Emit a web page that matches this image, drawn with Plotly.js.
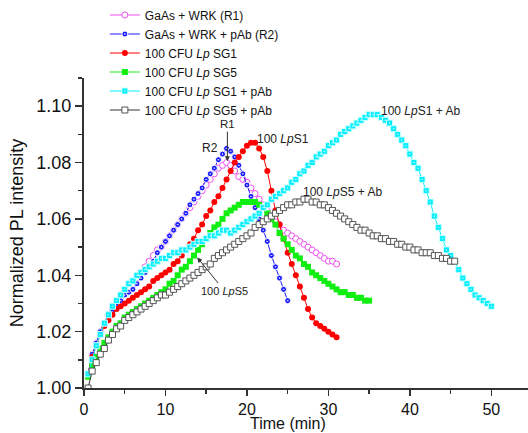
<!DOCTYPE html>
<html><head><meta charset="utf-8">
<script src="https://cdn.plot.ly/plotly-3.0.1.min.js"></script>
<style>html,body{margin:0;padding:0;background:#fff}#chart{width:528px;height:433px}</style>
</head><body><div id="chart"></div>
<script>
// Sampling times (min)
const time = [0.5,1,1.5,2,2.5,3,3.5,4,4.5,5,5.5,6,6.5,7,7.5,8,8.5,9,9.5,10,
10.5,11,11.5,12,12.5,13,13.5,14,14.5,15,15.5,16,16.5,17,17.5,18,18.5,19,19.5,20,
20.5,21,21.5,22,22.5,23,23.5,24,24.5,25,25.5,26,26.5,27,27.5,28,28.5,29,29.5,30,
30.5,31,31.5,32,32.5,33,33.5,34,34.5,35,35.5,36,36.5,37,37.5,38,38.5,39,39.5,40,
40.5,41,41.5,42,42.5,43,43.5,44,44.5,45,45.5,46,46.5,47,47.5,48,48.5,49,49.5,50];

const seriesNames = ["GaAs + WRK (R1)","GaAs + WRK + pAb (R2)","100 CFU <i>Lp</i> SG1",
  "100 CFU <i>Lp</i> SG5","100 CFU <i>Lp</i> SG1 + pAb","100 CFU <i>Lp</i> SG5 + pAb"];

const xTitle = 'Time (min)';
const yTitle = 'Normalized PL intensity';

const r1 = [1.005,1.012,1.016,1.020,1.023,1.026,1.028,1.030,1.032,1.034,
1.035,1.037,1.039,1.041,1.043,1.045,1.047,1.049,1.050,1.052,
1.054,1.056,1.058,1.060,1.062,1.064,1.066,1.068,1.070,1.072,
1.074,1.076,1.078,1.079,1.080,1.079,1.077,1.075,1.074,1.073,
1.071,1.069,1.067,1.065,1.063,1.061,1.059,1.058,1.056,1.055,
1.054,1.053,1.052,1.051,1.050,1.049,1.048,1.047,1.046,1.045,
1.045,1.044];

const r2 = [1.005,1.012,1.016,1.020,1.023,1.025,1.027,1.029,1.031,1.033,
1.034,1.035,1.037,1.039,1.041,1.043,1.045,1.048,1.050,1.052,
1.054,1.056,1.058,1.060,1.062,1.065,1.067,1.069,1.071,1.074,
1.076,1.078,1.081,1.083,1.085,1.084,1.082,1.079,1.076,1.072,
1.068,1.064,1.060,1.056,1.052,1.047,1.043,1.039,1.035,1.031];

const sg1 = [1.005,1.011,1.015,1.019,1.022,1.024,1.026,1.028,1.029,1.030,
1.031,1.032,1.033,1.034,1.035,1.036,1.038,1.039,1.040,1.041,
1.042,1.044,1.045,1.047,1.049,1.051,1.053,1.056,1.058,1.061,
1.063,1.066,1.068,1.071,1.074,1.077,1.080,1.082,1.084,1.086,
1.087,1.087,1.085,1.082,1.077,1.070,1.063,1.058,1.053,1.048,
1.044,1.040,1.036,1.032,1.028,1.025,1.023,1.022,1.021,1.020,
1.019,1.018];

const sg5 = [1.004,1.008,1.011,1.014,1.016,1.018,1.020,1.022,1.023,1.025,
1.026,1.027,1.028,1.029,1.030,1.031,1.032,1.033,1.034,1.035,
1.037,1.038,1.040,1.042,1.043,1.045,1.047,1.049,1.051,1.053,
1.055,1.057,1.058,1.060,1.062,1.063,1.064,1.065,1.066,1.066,
1.066,1.066,1.065,1.064,1.062,1.060,1.058,1.055,1.053,1.051,
1.049,1.047,1.046,1.044,1.043,1.041,1.040,1.039,1.038,1.037,
1.036,1.035,1.034,1.034,1.033,1.033,1.032,1.032,1.031,1.031];

const sg1pab = [1.005,1.010,1.015,1.019,1.023,1.026,1.029,1.031,1.033,1.035,
1.037,1.038,1.040,1.041,1.042,1.043,1.044,1.045,1.046,1.046,
1.047,1.048,1.048,1.049,1.049,1.050,1.051,1.052,1.052,1.053,
1.054,1.054,1.055,1.056,1.056,1.055,1.056,1.057,1.058,1.059,
1.060,1.061,1.062,1.064,1.065,1.067,1.068,1.069,1.070,1.071,
1.073,1.074,1.076,1.077,1.079,1.080,1.082,1.083,1.084,1.086,
1.087,1.088,1.090,1.091,1.092,1.093,1.094,1.095,1.096,1.097,
1.097,1.097,1.096,1.095,1.094,1.092,1.090,1.088,1.086,1.083,
1.080,1.078,1.074,1.070,1.066,1.061,1.057,1.053,1.049,1.047,
1.045,1.042,1.039,1.037,1.035,1.033,1.032,1.031,1.030,1.029];

const sg5pab = [1.000,1.006,1.009,1.012,1.014,1.017,1.019,1.021,1.022,1.024,
1.025,1.026,1.027,1.028,1.029,1.030,1.031,1.032,1.033,1.033,
1.034,1.035,1.036,1.037,1.038,1.039,1.040,1.041,1.042,1.043,
1.044,1.046,1.047,1.048,1.049,1.050,1.051,1.052,1.053,1.054,
1.055,1.057,1.058,1.059,1.060,1.061,1.062,1.063,1.064,1.065,
1.065,1.066,1.066,1.067,1.067,1.066,1.066,1.065,1.065,1.064,
1.063,1.062,1.061,1.060,1.059,1.058,1.057,1.056,1.056,1.055,
1.054,1.054,1.053,1.053,1.052,1.052,1.051,1.051,1.050,1.050,
1.049,1.049,1.048,1.048,1.048,1.047,1.047,1.046,1.046,1.045,
1.045];

const FONT = 'Arial, "Liberation Sans", sans-serif';

function mk(ys, name, lineColor, marker) {
  return {x: time.slice(0, ys.length), y: ys, name: name, type: 'scatter', mode: 'lines+markers',
    line: {color: lineColor, width: 1}, marker: marker};
}

const traces = [
  mk(r1, seriesNames[0], '#f050f0', {symbol: 'circle', size: 6, color: '#ffffff', line: {color: '#f050f0', width: 1}}),
  mk(r2, seriesNames[1], '#1a1aff', {symbol: 'circle-dot', size: 6, color: '#1a1aff', line: {color: '#ffffff', width: 1}}),
  mk(sg1, seriesNames[2], '#ff0000', {symbol: 'circle', size: 6, color: '#ff0000', line: {color: '#ff0000', width: 0}}),
  mk(sg5, seriesNames[3], '#22ee22', {symbol: 'square', size: 6, color: '#11ee11', line: {color: '#11ee11', width: 0}}),
  mk(sg1pab, seriesNames[4], '#00f0ff', {symbol: 'square-dot', size: 6, color: '#00eeff', line: {color: '#ccffff', width: 1}}),
  mk(sg5pab, seriesNames[5], '#333333', {symbol: 'square', size: 6, color: '#ffffff', line: {color: '#555555', width: 1}})
];

const annFont = {family: FONT, size: 12, color: '#222'};
const annotations = [
  {x: 17.6, y: 1.0805, ax: 0, ay: -37, text: 'R1', showarrow: true, arrowhead: 2, arrowsize: 1, arrowwidth: 1, arrowcolor: '#333', font: {family: FONT, size: 11.5, color: '#222'}},
  {x: 15.5, y: 1.0852, text: 'R2', showarrow: false, font: annFont},
  {x: 21.0, y: 1.0885, xanchor: 'left', text: '100 <i>Lp</i>S1', showarrow: false, font: annFont},
  {x: 36.2, y: 1.0984, xanchor: 'left', text: '100 <i>Lp</i>S1 + Ab', showarrow: false, font: annFont},
  {x: 26.6, y: 1.0696, xanchor: 'left', text: '100 <i>Lp</i>S5 + Ab', showarrow: false, font: annFont},
  {x: 13.9, y: 1.0463, ax: 27, ay: 33, text: '100 <i>Lp</i>S5', showarrow: true, arrowhead: 2, arrowsize: 1, arrowwidth: 1, arrowcolor: '#333', font: {family: FONT, size: 11, color: '#222'}},
  // x-axis title as a paper annotation, bottom-aligned with the page
  {xref: 'paper', yref: 'paper', x: 0.46, y: -0.1442, xanchor: 'center', yanchor: 'bottom', borderpad: 0,
   text: xTitle, showarrow: false, font: {family: FONT, size: 16, color: '#111'}}
];

const layout = {
  width: 528, height: 433,
  margin: {l: 84, r: 0, t: 76, b: 45, pad: 0},
  paper_bgcolor: '#fff', plot_bgcolor: '#fff',
  font: {family: FONT, color: '#111'},
  showlegend: true,
  legend: {x: 0.047, y: 1.25, xanchor: 'left', yanchor: 'top', bgcolor: 'rgba(0,0,0,0)',
    font: {family: FONT, size: 12, color: '#111'}, tracegroupgap: 0},
  xaxis: {range: [0, 54.5], showgrid: false, zeroline: false, showline: true, linecolor: '#333', linewidth: 2,
    ticks: 'outside', ticklen: 6, tickwidth: 1.5, tickcolor: '#333', dtick: 10, tick0: 0,
    minor: {ticks: 'outside', ticklen: 4, dtick: 5, tickcolor: '#333', tickwidth: 1.5, showgrid: false},
    tickfont: {family: FONT, size: 16, color: '#111'}},
  yaxis: {range: [1.0, 1.11], showgrid: false, zeroline: false, showline: true, linecolor: '#333', linewidth: 2,
    ticks: 'outside', ticklen: 7, tickwidth: 1.5, tickcolor: '#333', dtick: 0.02, tick0: 1.0, tickformat: '.2f',
    minor: {ticks: 'outside', ticklen: 4, dtick: 0.01, tickcolor: '#333', tickwidth: 1.5, showgrid: false},
    tickfont: {family: FONT, size: 18, color: '#111'},
    title: {text: yTitle, font: {family: FONT, size: 18, color: '#111'}, standoff: 8}},
  annotations: annotations
};

Plotly.newPlot('chart', traces, layout, {displayModeBar: false, staticPlot: true});
</script>
</body></html>
